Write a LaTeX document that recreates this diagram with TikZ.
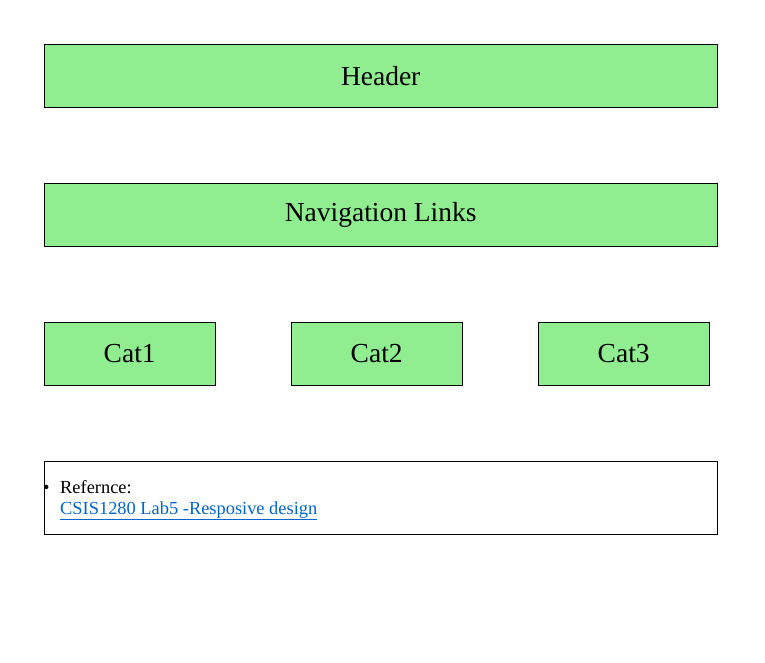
\documentclass[tikz,border=0pt]{standalone}
\usepackage{fontspec}
\setmainfont{Liberation Serif}
\definecolor{boxgreen}{HTML}{90EE90}
\definecolor{linkblue}{HTML}{0066CC}
\begin{document}
\begin{tikzpicture}[x=1pt,y=-1pt,
    block/.style={draw=black,fill=boxgreen,anchor=north west,inner sep=0pt,
        minimum height=63pt,font=\fontsize{27.5}{30}\selectfont},
    wideblock/.style={block,minimum width=673pt},
    catblock/.style={block,minimum width=171pt}]
        \useasboundingbox (0,0) rectangle (765,663);

        % Franjas anchas
        \node[wideblock] (header) at (44,44) {Header};
        \node[wideblock] (nav) at (44,183) {Navigation Links};

        % Categorias
        \node[catblock] (cat1) at (44,322) {Cat1};
        \node[catblock] (cat2) at (291,322) {Cat2};
        \node[catblock] (cat3) at (538,322) {Cat3};

        % Caja de referencia
        \node[draw=black,fill=white,anchor=north west,inner sep=0pt,
            minimum width=673pt,minimum height=73pt] (ref) at (44,461) {};
        \node[anchor=base west,inner sep=0pt,font=\fontsize{18.4}{21}\selectfont] (bullet) at (43,493) {•};
        \node[anchor=base west,inner sep=0pt,align=left,font=\fontsize{18.4}{21}\selectfont] (reftext) at (60,514)
            {Refernce:\\\textcolor{linkblue}{\underline{CSIS1280 Lab5 -Resposive design}}};
\end{tikzpicture}
\end{document}
